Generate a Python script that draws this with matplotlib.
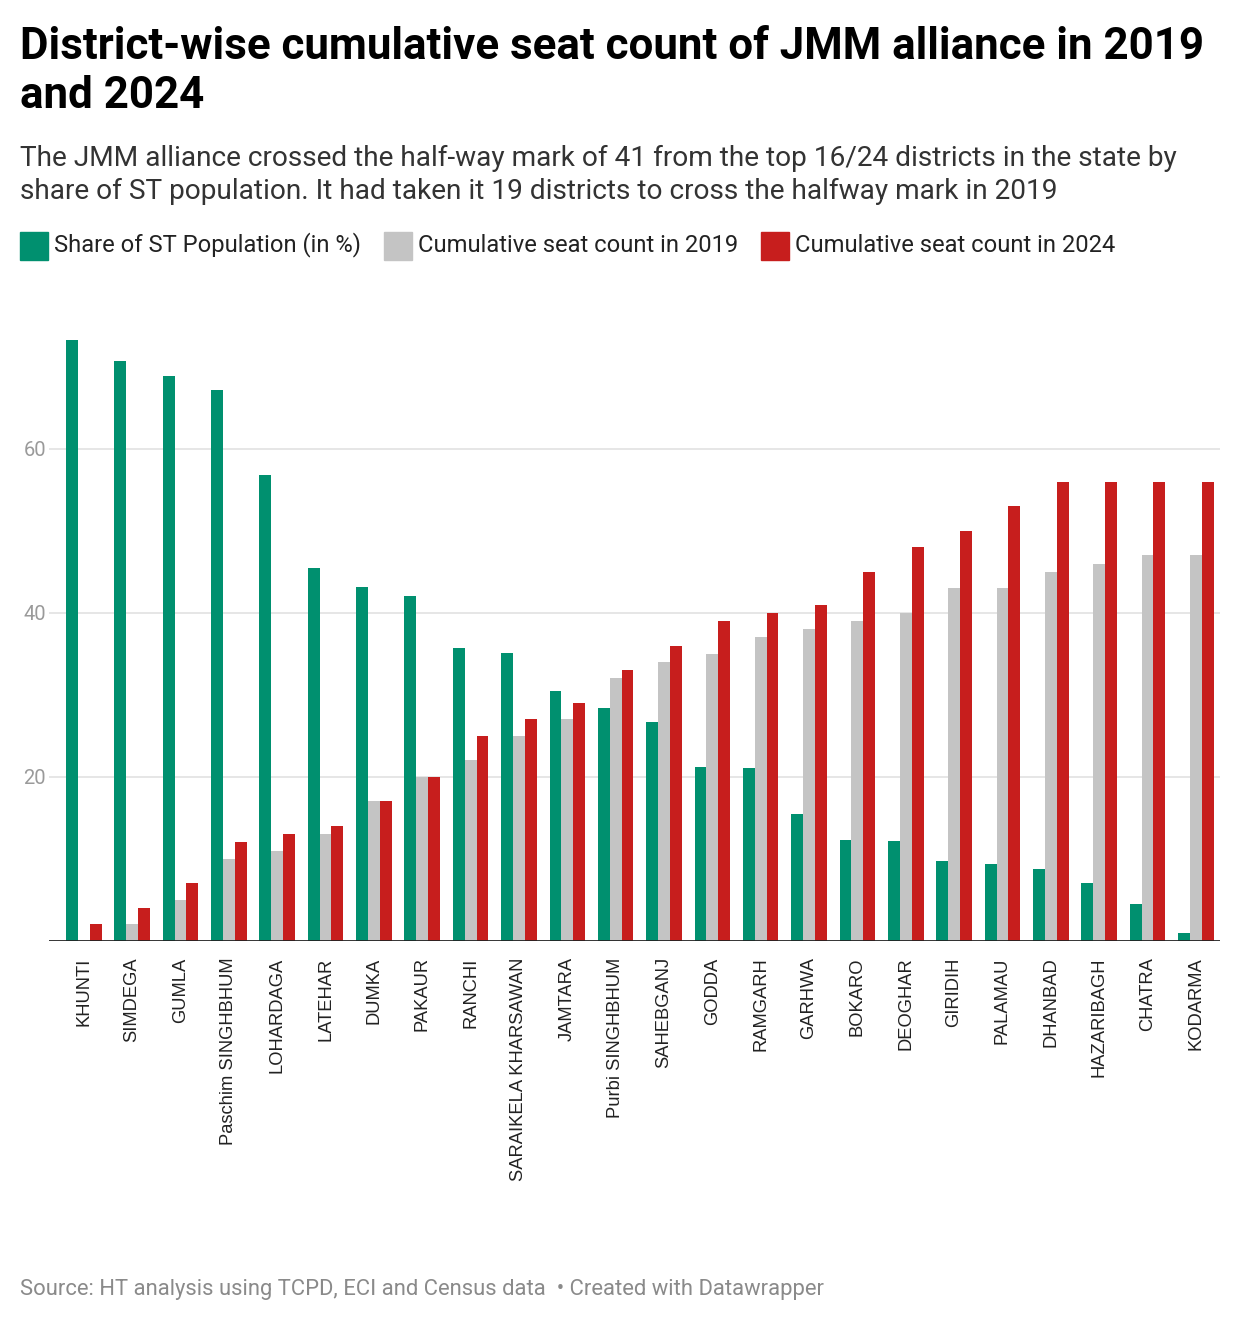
import matplotlib.pyplot as plt
from matplotlib.patches import Rectangle
import numpy as np

districts = ["KHUNTI", "SIMDEGA", "GUMLA", "Paschim SINGHBHUM", "LOHARDAGA", "LATEHAR",
             "DUMKA", "PAKAUR", "RANCHI", "SARAIKELA KHARSAWAN", "JAMTARA", "Purbi SINGHBHUM",
             "SAHEBGANJ", "GODDA", "RAMGARH", "GARHWA", "BOKARO", "DEOGHAR", "GIRIDIH",
             "PALAMAU", "DHANBAD", "HAZARIBAGH", "CHATRA", "KODARMA"]
st_share = [73.3, 70.7, 68.9, 67.2, 56.8, 45.5, 43.1, 42.0, 35.7, 35.1, 30.4, 28.4,
            26.7, 21.2, 21.1, 15.5, 12.3, 12.1, 9.7, 9.3, 8.7, 7.0, 4.5, 1.0]
seats_2019 = [0, 2, 5, 10, 11, 13, 17, 20, 22, 25, 27, 32,
              34, 35, 37, 38, 39, 40, 43, 43, 45, 46, 47, 47]
seats_2024 = [2, 4, 7, 12, 13, 14, 17, 20, 25, 27, 29, 33,
              36, 39, 40, 41, 45, 48, 50, 53, 56, 56, 56, 56]
y_ticks = [20, 40, 60]

green = "#00906f"
grey = "#c4c4c4"
red = "#c71e1d"

W, H = 1240, 1324
fig = plt.figure(figsize=(W / 100, H / 100), dpi=100)

def fx(px):
    return px / W

def fy(py):
    return 1 - py / H

fig.text(fx(20), fy(26), "District-wise cumulative seat count of JMM alliance in 2019\nand 2024",
         fontsize=31.6, fontweight="bold", family="Roboto", va="top", ha="left",
         color="#000000", linespacing=1.22)
fig.text(fx(20), fy(145), "The JMM alliance crossed the half-way mark of 41 from the top 16/24 districts in the state by\n"
         "share of ST population. It had taken it 19 districts to cross the halfway mark in 2019",
         fontsize=20.2, family="Roboto", va="top", ha="left", color="#333333", linespacing=1.3)

legend_items = [("Share of ST Population (in %)", green, 20),
                ("Cumulative seat count in 2019", grey, 384),
                ("Cumulative seat count in 2024", red, 761)]
for label, col, x0 in legend_items:
    fig.patches.append(Rectangle((fx(x0), fy(260)), fx(28), 28 / H, color=col,
                                 transform=fig.transFigure, figure=fig))
    fig.text(fx(x0 + 34), fy(245), label, fontsize=17.1, family="Roboto",
             va="center", ha="left", color="#222222")

ymax = 75
bottom_px = 940.7
top_px = bottom_px - ymax * 8.2
ax = fig.add_axes([fx(49), fy(bottom_px), fx(1220 - 49), (bottom_px - top_px) / H])

x = np.arange(len(districts))
bw = 0.245
ax.bar(x - bw, st_share, bw, color=green, zorder=3)
ax.bar(x, seats_2019, bw, color=grey, zorder=3)
ax.bar(x + bw, seats_2024, bw, color=red, zorder=3)

ax.set_xlim(-0.72, len(districts) - 0.5)
ax.set_ylim(0, ymax)
ax.set_yticks(y_ticks)
ax.set_yticklabels([str(t) for t in y_ticks], fontsize=14.5, family="Roboto", color="#9a9a9a")
ax.tick_params(axis="y", length=0, pad=2)
for t in y_ticks:
    ax.axhline(t, color="#e4e4e4", linewidth=1.3, zorder=1)
ax.axhline(0, color="#222222", linewidth=2, zorder=4)

ax.set_xticks(x)
ax.set_xticklabels(districts, rotation=90, fontsize=13.2, family="Liberation Sans",
                   color="#222222", va="top", ha="center")
ax.tick_params(axis="x", length=0, pad=12)

for s in ax.spines.values():
    s.set_visible(False)

fig.text(fx(20), fy(1289), "Source: HT analysis using TCPD, ECI and Census data  \u2022 Created with Datawrapper",
         fontsize=15.8, family="Roboto", va="center", ha="left", color="#8a8a8a")

fig.savefig("out.png", dpi=100, facecolor="white")
